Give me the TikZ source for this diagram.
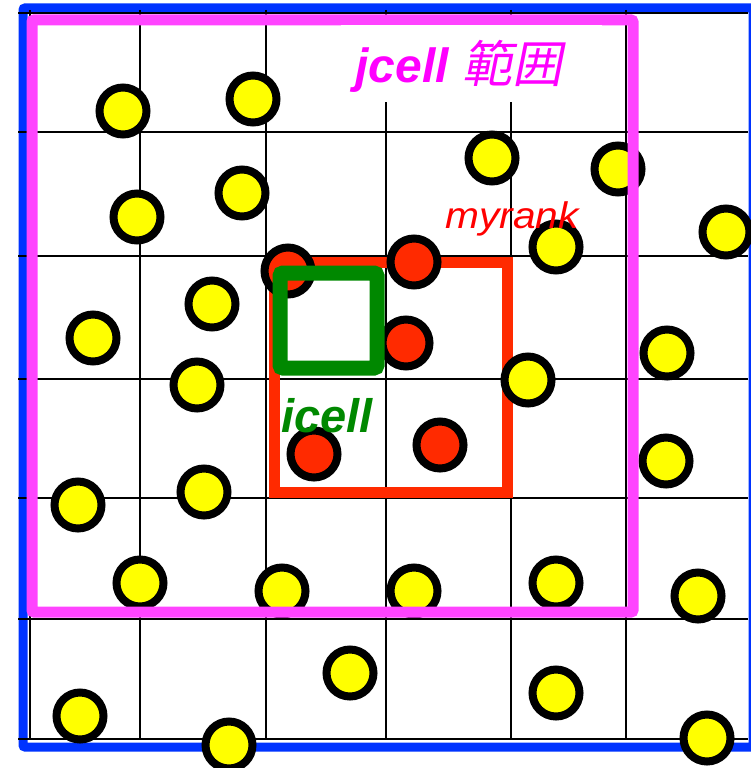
\documentclass[tikz,border=0pt]{standalone}
\usepackage{fontspec}
\setmainfont{Liberation Sans}
\newfontfamily\cjkfont[FakeSlant=0.2]{Noto Sans CJK JP}
\usepackage{graphicx}
\usepackage{tikz}
\usetikzlibrary{positioning}

\definecolor{frameblue}{HTML}{0033FF}
\definecolor{rangemag}{HTML}{FF44FF}
\definecolor{textmag}{HTML}{FF00FF}
\definecolor{rankred}{HTML}{FF2A00}
\definecolor{cellgreen}{HTML}{008800}
\definecolor{ptyellow}{HTML}{FFFF00}

\begin{document}
\begin{tikzpicture}[x=1pt,y=-1pt,
  yellow node/.style={circle,fill=ptyellow,draw=black,line width=8pt,inner sep=0pt,minimum size=47pt},
  red node/.style={yellow node,fill=rankred}]
  \useasboundingbox (0,0) rectangle (751,768);
  % outer frame and cells
  \draw[frameblue,line width=9pt,rounded corners=2pt] (23,8) rectangle (753,747);
  \foreach \gx in {30,140,266,386,511,626}
    \draw[line width=2pt] (\gx,10) -- (\gx,739);
  \foreach \gy in {13,132,256,379,498,619,739}
    \draw[line width=2pt] (18,\gy) -- (748,\gy);
  % myrank
  \draw[rankred,line width=11pt] (274,262) rectangle (507,492);
  % particles
  \node[yellow node] (y1) at (123,111) {};
  \node[yellow node] (y2) at (253,99) {};
  \node[yellow node] (y3) at (492,158) {};
  \node[yellow node] (y4) at (618,169) {};
  \node[yellow node] (y5) at (137,217) {};
  \node[yellow node] (y6) at (242,193) {};
  \node[yellow node] (y7) at (726,232) {};
  \node[yellow node] (y8) at (556,247) {};
  \node[yellow node] (y9) at (212,304) {};
  \node[yellow node] (y10) at (93,338) {};
  \node[yellow node] (y11) at (197,385) {};
  \node[yellow node] (y12) at (528,380) {};
  \node[yellow node] (y13) at (667,353) {};
  \node[yellow node] (y14) at (666,461) {};
  \node[yellow node] (y15) at (78,505) {};
  \node[yellow node] (y16) at (204,492) {};
  \node[yellow node] (y17) at (140,583) {};
  \node[yellow node] (y18) at (282,591) {};
  \node[yellow node] (y19) at (414,591) {};
  \node[yellow node] (y20) at (556,583) {};
  \node[yellow node] (y21) at (698,596) {};
  \node[yellow node] (y22) at (350,673) {};
  \node[yellow node] (y23) at (556,693) {};
  \node[yellow node] (y24) at (80,716) {};
  \node[yellow node] (y25) at (229,745) {};
  \node[yellow node] (y26) at (707,738) {};
  \node[red node] (r1) at (288,271) {};
  \node[red node] (r2) at (414,262) {};
  \node[red node] (r3) at (406,343) {};
  \node[red node] (r4) at (314,454) {};
  \node[red node] (r5) at (440,445) {};
  % icell and jcell range
  \draw[cellgreen,line width=15pt,rounded corners=3pt] (280,273) rectangle (377,368);
  \draw[rangemag,line width=11pt,rounded corners=2pt] (32,20) rectangle (633,612);
  \fill[white] (341,25) rectangle (602,102);
  \node[anchor=base,text=textmag,font=\fontsize{48}{48}\selectfont] (jlabel) at (459,82)
    {{\bfseries\itshape jcell} {\cjkfont\fontsize{50}{50}\selectfont 範囲}};
  \node[anchor=base,text=red,font=\fontsize{37}{37}\selectfont\itshape] (rlabel) at (512,228)
    {\scalebox{1.1}[1]{myrank}};
  \node[anchor=base,text=cellgreen,font=\fontsize{47}{47}\selectfont\bfseries\itshape] (ilabel) at (327,432) {icell};
\end{tikzpicture}
\end{document}
